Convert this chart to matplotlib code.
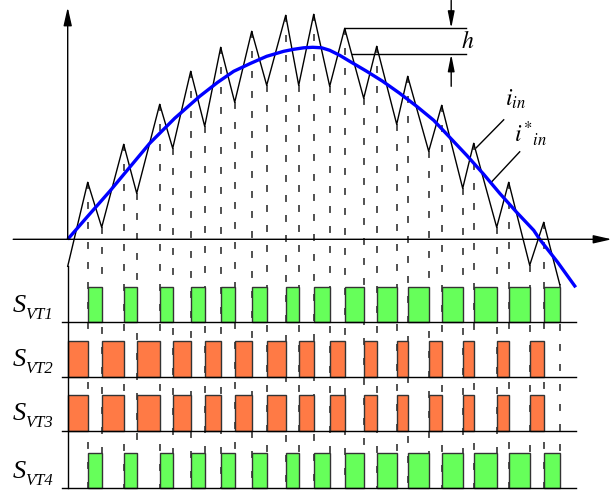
import matplotlib.pyplot as plt

plt.rcParams['mathtext.fontset'] = 'stix'
plt.rcParams['lines.scale_dashes'] = False

# hysteresis current i_in: turning points (time, value), start, peak, valley, ... , end
t_vertex = [0, 20, 34, 56, 69, 92, 105, 123, 137, 153, 167, 184, 199, 218, 231,
            246, 262, 277, 296, 309, 329, 340, 361, 374, 395, 406, 429, 441, 462, 476, 492]
i_vertex = [-27, 57, 12, 95, 46, 135, 91, 168, 113, 192, 137, 208, 154, 224, 154,
            225, 153, 211, 141, 193, 115, 163, 88, 134, 51, 96, 12, 57, -26, 17, -45]

# reference current i*_in
t_ref = [0, 20, 42, 62, 82, 107, 132, 150, 166, 183, 199, 216, 226, 236, 245, 254,
         262, 272, 282, 299, 315, 332, 349, 366, 382, 399, 416, 432, 449, 466, 472, 490, 508]
i_ref = [0, 23, 48, 72, 96, 121, 143, 157, 168, 176, 183, 188, 190, 191.5, 192, 191.5,
         189, 184, 178, 168, 158, 146, 133, 119, 102, 84, 65, 46, 27, 9, 0, -23, -48]

row_names = ['VT1', 'VT2', 'VT3', 'VT4']
# which half of the ripple each switch conducts: 'fall' = peak->valley, 'rise' = valley->peak
row_phase = ['fall', 'rise', 'rise', 'fall']
row_top = [-47.4, -101.4, -155.7, -213.4]
row_base = [-82.7, -137.7, -191.4, -248.4]

green = '#66ff5a'
orange = '#ff7a45'
serif_it = dict(family='Liberation Serif', style='italic')

fig = plt.figure(figsize=(6.13, 4.92), dpi=100)
ax = fig.add_axes([0, 0, 1, 1])
ax.set_xlim(-67.7, 545.3)
ax.set_ylim(-252.7, 239.3)
ax.axis('off')

# dashed projection lines from every turning point down to the last row
for t, i in zip(t_vertex[1:], i_vertex[1:]):
    ax.plot([t, t], [i, row_base[-1]], color='#222222', lw=1.1,
            dashes=(5, 9.4), zorder=1)

# switching signal rows
for k in range(4):
    ax.plot([-6, 508], [row_base[k], row_base[k]], color='black', lw=1.0, zorder=3)
    start = 1 if row_phase[k] == 'fall' else 0
    lefts, widths = [], []
    for j in range(start, len(t_vertex) - 1, 2):
        lefts.append(t_vertex[j])
        widths.append(t_vertex[j + 1] - t_vertex[j])
    ax.bar(lefts, row_top[k] - row_base[k], width=widths, bottom=row_base[k],
           align='edge', color=green if row_phase[k] == 'fall' else orange,
           edgecolor='#333333', linewidth=1.0, zorder=2)
    base = (row_base[k] + row_top[k]) / 2 - 7.5
    ax.text(-55, base, 'S', fontsize=19, ha='left', va='baseline', **serif_it)
    ax.text(-42.5, base - 7, row_names[k], fontsize=12, ha='left',
            va='baseline', **serif_it)

# left border of switching rows
ax.plot([0, 0], [i_vertex[0], row_base[-1]], color='black', lw=1.0, zorder=3)

# current waveforms
ax.plot(t_vertex, i_vertex, color='black', lw=1.0, zorder=4)
ax.plot(t_ref, i_ref, color='#0000ff', lw=2.4, zorder=5, solid_capstyle='butt')

# axes with arrows
arrow = dict(arrowstyle='-|>,head_length=1.1,head_width=0.25', color='black',
             lw=1.0, shrinkA=0, shrinkB=0, mutation_scale=10)
ax.annotate('', xy=(0, 232), xytext=(0, 0), arrowprops=arrow, zorder=6)
ax.annotate('', xy=(544, 0), xytext=(-54.5, 0), arrowprops=arrow, zorder=6)

# hysteresis band h
ax.plot([277, 398], [211, 211], color='black', lw=1.0)
ax.plot([284, 398], [185, 185], color='black', lw=1.0)
harrow = dict(arrowstyle='-|>,head_length=1.0,head_width=0.2', color='black',
              lw=1.0, shrinkA=0, shrinkB=0, mutation_scale=10)
ax.annotate('', xy=(383.5, 211), xytext=(383.5, 239), arrowprops=harrow)
ax.annotate('', xy=(383.5, 185), xytext=(383.5, 153), arrowprops=harrow)
ax.text(400, 198, r'$h$', fontsize=17, ha='center', va='center')

# curve labels
ax.plot([436, 408.5], [119.5, 91.5], color='black', lw=1.0)
ax.text(437, 128, r'$i_{in}$', fontsize=17, ha='left', va='bottom')
ax.plot([452, 424], [87.5, 57.5], color='black', lw=1.0)
ax.text(446, 91, r'$i^{*}{}_{in}$', fontsize=17, ha='left', va='bottom')

fig.savefig('out.png', dpi=100)
